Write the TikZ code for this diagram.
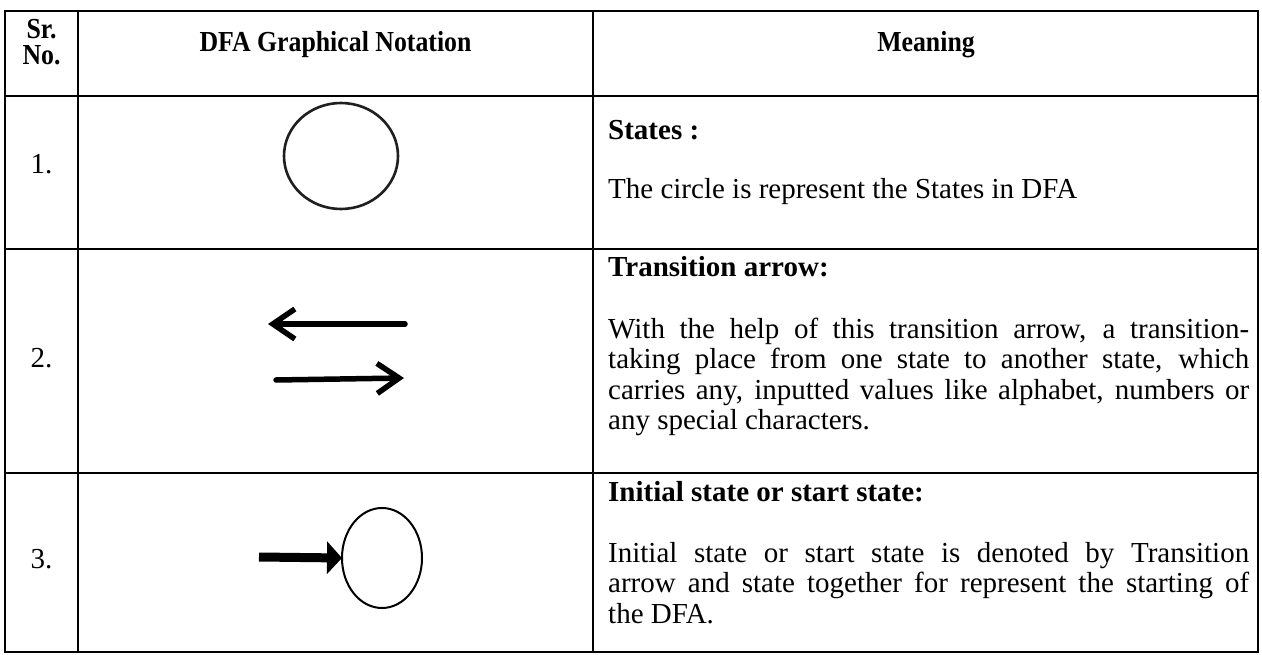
\documentclass[tikz,border=0pt]{standalone}
\usepackage{fontspec}
\setmainfont{Liberation Serif}
\usetikzlibrary{arrows.meta,shapes.geometric}
\tikzset{
  grid/.style={line width=2.2pt, line cap=rect},
  hdr/.style={font=\fontsize{29}{26}\selectfont\bfseries, align=center, inner sep=0, anchor=base, xscale=0.89, transform shape},
  num/.style={font=\fontsize{29}{30}\selectfont, inner sep=0, anchor=base},
  ttl/.style={font=\fontsize{29}{30}\selectfont\bfseries, inner sep=0, anchor=base west},
  body/.style={font=\fontsize{29}{30.5}\selectfont, text width=641pt, align=justify, inner sep=0, anchor=base west},
  statecirc/.style={draw=black!88, ellipse, inner sep=0, outer sep=0},
  tarrow/.style={line width=5.5pt, line cap=round, line join=round, -{Straight Barb[length=22pt,width=30pt]}},
  sarrow/.style={line width=9pt, -{Triangle[length=15pt,width=32pt]}}
}
\begin{document}
\begin{tikzpicture}[x=1pt,y=-1pt]
\useasboundingbox[fill=white] (0,0) rectangle (1262,655);
% table grid
\draw[grid] (5,11) rectangle (1258,652);
\draw[grid] (5,96) -- (1258,96);
\draw[grid] (5,249) -- (1258,249);
\draw[grid] (5,473) -- (1258,473);
\draw[grid] (78,11) -- (78,652);
\draw[grid] (593,11) -- (593,652);
% header
\node[hdr] (h1) at (41.5,65) {Sr.\\No.};
\node[hdr] (h2) at (335.5,52) {DFA Graphical Notation};
\node[hdr] (h3) at (926,52) {Meaning};
% numbers
\node[num] (n1) at (41.5,174) {1.};
\node[num] (n2) at (41.5,367) {2.};
\node[num] (n3) at (41.5,568) {3.};
% row 1
\node[statecirc, line width=2.6pt, minimum width=114pt, minimum height=106pt] (s1) at (341,156) {};
\node[ttl] (t1) at (608,140) {States :};
\node[body] (b1) at (608,199) {The circle is represent the States in DFA};
% row 2
\coordinate (l1) at (405,324);
\coordinate (l2) at (268,324);
\coordinate (r1) at (276,380);
\coordinate (r2) at (404,378);
\draw[tarrow] (l1) -- (l2);
\draw[tarrow] (r1) -- (r2);
\node[ttl] (t2) at (608,277) {Transition arrow:};
\node[body] (b2) at (608,338) {With the help of this transition arrow, a transition-\linebreak taking place from one state to another state, which\linebreak carries any, inputted values like alphabet, numbers or\linebreak any special characters.};
% row 3
\node[statecirc, draw=black, line width=2pt, minimum width=80pt, minimum height=100pt] (s3) at (382,558) {};
\coordinate (i1) at (259,557);
\draw[sarrow] (i1) -- (s3.west);
\node[ttl] (t3) at (608,501) {Initial state or start state:};
\node[body] (b3) at (608,562) {Initial state or start state is denoted by Transition\linebreak arrow and state together for represent the starting of\linebreak the DFA.};
\end{tikzpicture}
\end{document}
